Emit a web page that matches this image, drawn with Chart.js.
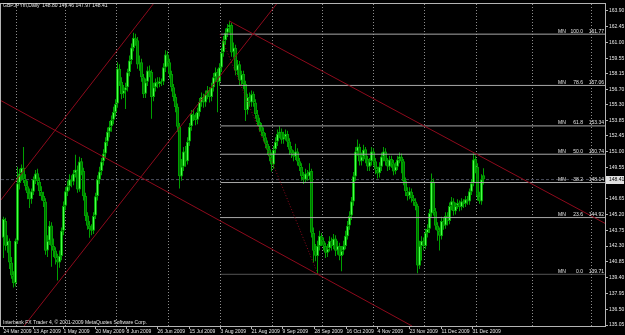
<!DOCTYPE html>
<html>
<head>
<meta charset="utf-8">
<script src="https://cdn.jsdelivr.net/npm/chart.js@4.4.1/dist/chart.umd.min.js"></script>
<style>
  html, body { margin: 0; padding: 0; background: #000; }
  #wrap { width: 625px; height: 335px; }
</style>
</head>
<body>
<div id="wrap"><canvas id="chart" width="625" height="335"></canvas></div>
<script>
// GBPJPYm daily bars, bar 0 = 24 Mar 2009
const openP = [
  143.06, 144.6, 142.3, 142.8, 140.8, 139.6, 138.9, 142.8, 148.1, 149.0,
  149.5, 148.4, 147.8, 147.2, 146.6, 147.3, 148.4, 149.0, 148.2, 147.3,
  146.9, 146.4, 141.9, 142.8, 144.2, 142.3, 141.9, 141.1, 140.8, 141.4,
  143.7, 146.0, 147.3, 147.8, 148.4, 148.2, 149.0, 149.3, 147.5, 150.1,
  149.2, 146.9, 145.1, 144.2, 143.9, 143.7, 145.1, 146.9, 148.4, 149.2,
  150.1, 150.8, 151.9, 152.8, 153.3, 153.9, 154.6, 155.4, 158.6, 157.4,
  156.3, 156.6, 156.9, 158.3, 159.4, 160.5, 161.4, 161.2, 159.0, 159.2,
  157.8, 156.3, 157.4, 158.4, 158.3, 156.0, 156.9, 157.4, 157.2, 157.4,
  157.4, 158.7, 159.9, 159.2, 158.1, 156.9, 156.0, 155.1, 153.3, 148.7,
  149.6, 151.0, 150.1, 151.9, 153.3, 154.4, 154.2, 153.9, 154.6, 155.5,
  156.0, 155.5, 156.3, 156.6, 156.0, 156.9, 157.8, 158.3, 157.4, 158.7,
  160.1, 161.2, 161.9, 162.4, 162.6, 160.1, 160.5, 158.4, 159.0, 157.5,
  158.1, 157.2, 154.8, 156.0, 155.5, 156.3, 155.5, 154.4, 153.7, 153.3,
  152.8, 152.3, 151.7, 151.2, 150.5, 149.8, 151.2, 151.9, 152.6, 152.8,
  152.1, 152.3, 152.6, 151.9, 151.2, 150.8, 150.5, 151.0, 150.1, 149.6,
  148.7, 148.4, 149.0, 148.7, 149.2, 143.5, 141.9, 141.4, 142.3, 143.2,
  142.8, 142.3, 141.7, 142.1, 142.8, 142.3, 143.0, 141.9, 142.3, 141.4,
  141.9, 142.3, 143.2, 144.2, 145.1, 146.4, 148.7, 151.0, 151.4, 150.1,
  150.5, 151.2, 150.3, 149.6, 150.1, 151.0, 150.1, 149.3, 149.0, 149.6,
  150.5, 151.0, 150.1, 149.6, 150.3, 149.9, 149.2, 149.6, 150.3, 150.5,
  150.1, 148.3, 147.3, 146.9, 147.3, 146.7, 146.4, 146.0, 140.5, 142.3,
  142.8, 142.3, 143.5, 143.9, 145.3, 148.2, 145.5, 144.2, 143.7, 143.2,
  144.6, 144.2, 145.1, 144.6, 146.0, 146.4, 145.5, 146.0, 146.3, 145.9,
  146.4, 146.2, 146.6, 146.4, 147.3, 148.1, 150.3, 149.6, 146.9, 146.4,
  148.80
];
const highP = [
  145.0, 144.9, 143.3, 143.0, 141.3, 140.0, 143.0, 149.6, 149.4, 149.8,
  151.4, 148.9, 148.3, 147.6, 147.6, 148.7, 149.3, 149.4, 148.6, 147.8,
  147.3, 146.7, 143.3, 144.6, 144.5, 143.0, 142.2, 141.6, 141.9, 144.0,
  146.4, 147.7, 148.3, 148.9, 148.8, 149.3, 150.7, 149.7, 150.5, 150.4,
  149.5, 147.2, 145.4, 144.6, 144.3, 145.4, 147.2, 148.8, 149.6, 150.4,
  151.2, 152.3, 153.2, 153.8, 154.3, 155.1, 155.8, 159.2, 159.0, 157.8,
  157.1, 157.3, 158.6, 159.8, 160.9, 161.9, 161.8, 161.5, 159.8, 159.5,
  158.1, 157.7, 158.8, 158.9, 158.5, 157.3, 157.7, 157.8, 157.8, 157.7,
  159.1, 160.3, 160.2, 159.5, 158.4, 157.2, 156.3, 155.4, 153.6, 150.3,
  151.4, 151.5, 152.3, 153.6, 154.8, 154.9, 154.5, 155.0, 155.9, 156.4,
  156.3, 156.6, 157.0, 156.9, 157.3, 158.2, 158.7, 158.6, 159.1, 160.5,
  161.6, 162.3, 162.7, 163.0, 162.8, 161.0, 160.8, 159.4, 159.3, 158.4,
  158.4, 157.5, 156.3, 156.4, 156.6, 156.5, 155.8, 154.8, 154.1, 153.6,
  153.2, 152.7, 152.0, 151.5, 150.9, 151.5, 152.3, 153.0, 153.3, 153.1,
  152.8, 153.0, 152.9, 152.2, 151.5, 151.1, 151.7, 151.3, 150.4, 149.9,
  149.1, 149.4, 149.3, 149.9, 149.4, 144.0, 142.5, 142.8, 143.7, 143.5,
  143.1, 142.6, 142.5, 143.2, 143.1, 143.4, 143.3, 142.8, 142.6, 142.3,
  142.8, 143.7, 144.6, 145.5, 146.8, 149.1, 151.4, 152.1, 151.7, 150.9,
  151.6, 151.4, 150.6, 150.4, 151.4, 151.3, 150.4, 149.6, 150.0, 150.9,
  151.4, 151.3, 150.4, 150.6, 150.6, 150.2, 150.0, 150.6, 150.9, 150.8,
  150.3, 148.6, 147.7, 147.7, 147.6, 147.0, 146.7, 146.2, 142.8, 143.2,
  143.1, 143.9, 144.3, 145.7, 148.98, 148.5, 145.8, 144.5, 144.0, 145.0,
  144.9, 145.4, 145.4, 146.3, 146.8, 146.7, 146.3, 146.6, 146.5, 146.7,
  146.6, 146.9, 146.9, 147.6, 148.4, 150.8, 150.6, 149.9, 147.3, 148.9,
  149.46
];
const lowP = [
  141.2, 141.9, 141.7, 140.2, 139.3, 138.5, 138.6, 142.5, 147.5, 148.3,
  148.1, 147.4, 146.6, 145.8, 146.2, 147.0, 148.0, 147.9, 146.9, 146.5,
  145.9, 141.5, 141.3, 142.4, 140.4, 141.3, 140.6, 139.15, 140.3, 141.0,
  143.3, 145.6, 146.9, 147.4, 147.7, 147.9, 148.6, 147.2, 147.3, 148.8,
  146.5, 144.6, 143.8, 143.06, 143.3, 143.4, 144.8, 146.5, 148.0, 148.8,
  149.7, 150.4, 151.5, 152.3, 152.8, 153.5, 154.2, 155.0, 157.0, 155.8,
  155.9, 154.9, 156.5, 157.9, 159.0, 160.2, 160.7, 158.6, 158.4, 157.4,
  155.9, 155.9, 157.0, 157.8, 154.0, 155.6, 156.5, 156.8, 156.9, 157.0,
  157.1, 158.3, 158.8, 157.7, 156.5, 155.6, 154.6, 152.8, 147.6, 148.3,
  149.2, 149.6, 149.8, 151.5, 152.9, 153.8, 153.4, 153.5, 154.2, 155.1,
  155.0, 155.1, 155.8, 155.5, 155.6, 156.5, 157.4, 154.6, 157.0, 158.3,
  159.7, 160.8, 161.5, 161.9, 159.7, 159.6, 158.0, 158.0, 157.1, 157.1,
  156.7, 153.8, 154.4, 155.1, 155.1, 155.1, 154.0, 153.3, 152.8, 152.4,
  151.9, 151.3, 150.7, 150.1, 149.16, 149.4, 150.8, 151.5, 152.2, 151.7,
  151.7, 152.0, 151.4, 150.7, 150.4, 150.1, 150.2, 149.7, 149.2, 148.3,
  148.0, 148.1, 148.3, 148.4, 143.1, 140.8, 140.9, 139.71, 141.9, 142.3,
  141.9, 141.2, 141.3, 141.8, 141.9, 142.0, 141.4, 141.5, 141.0, 140.0,
  141.5, 142.0, 142.9, 143.8, 144.7, 146.0, 148.3, 150.6, 149.7, 149.7,
  150.1, 149.9, 149.2, 149.2, 149.7, 149.7, 148.9, 148.5, 148.6, 149.2,
  150.1, 149.7, 149.2, 149.3, 149.5, 148.8, 148.9, 149.3, 149.9, 149.0,
  147.9, 146.9, 146.5, 146.6, 146.3, 146.0, 145.6, 139.8, 140.2, 140.97,
  141.9, 142.0, 143.1, 143.5, 145.0, 145.1, 143.8, 142.8, 141.9, 142.9,
  143.8, 143.9, 144.2, 144.3, 145.6, 145.1, 145.2, 145.7, 145.5, 145.6,
  145.8, 145.9, 146.1, 146.1, 147.0, 147.8, 149.0, 146.5, 146.2, 146.1,
  147.97
];
const closeP = [
  144.8, 142.34, 142.79, 140.79, 139.6, 138.88, 142.79, 148.07, 148.98, 149.5,
  148.43, 147.8, 147.16, 146.61, 147.34, 148.43, 148.98, 148.25, 147.34, 146.89,
  146.43, 141.88, 142.79, 144.16, 142.34, 141.88, 141.15, 140.79, 141.42, 143.7,
  145.98, 147.34, 147.8, 148.43, 148.25, 148.98, 149.34, 147.5, 150.07, 149.16,
  146.89, 145.07, 144.16, 143.88, 143.7, 145.07, 146.89, 148.43, 149.16, 150.07,
  150.8, 151.89, 152.8, 153.26, 153.89, 154.62, 155.35, 158.62, 157.35, 156.26,
  156.62, 156.9, 158.26, 159.35, 160.54, 161.45, 161.17, 158.99, 159.17, 157.81,
  156.26, 157.35, 158.44, 158.26, 155.99, 156.9, 157.35, 157.17, 157.44, 157.35,
  158.72, 159.9, 159.17, 158.08, 156.9, 155.99, 155.08, 153.26, 148.71, 149.62,
  150.98, 150.07, 151.89, 153.26, 154.44, 154.17, 153.89, 154.62, 155.53, 155.99,
  155.53, 156.26, 156.62, 155.99, 156.9, 157.81, 158.26, 157.35, 158.72, 160.08,
  161.17, 161.9, 162.36, 162.63, 160.08, 160.54, 158.44, 158.99, 157.53, 158.08,
  157.17, 154.8, 155.99, 155.53, 156.26, 155.53, 154.44, 153.71, 153.26, 152.8,
  152.35, 151.71, 151.16, 150.53, 149.8, 151.16, 151.89, 152.62, 152.8, 152.07,
  152.35, 152.62, 151.89, 151.16, 150.8, 150.53, 150.98, 150.07, 149.62, 148.71,
  148.43, 148.98, 148.71, 149.16, 143.52, 141.88, 141.42, 142.34, 143.24, 142.79,
  142.34, 141.7, 142.06, 142.79, 142.34, 142.97, 141.88, 142.34, 141.42, 141.88,
  142.34, 143.24, 144.16, 145.07, 146.43, 148.71, 150.98, 151.44, 150.07, 150.53,
  151.16, 150.25, 149.62, 150.07, 150.98, 150.07, 149.34, 148.98, 149.62, 150.53,
  150.98, 150.07, 149.62, 150.25, 149.89, 149.16, 149.62, 150.25, 150.53, 150.07,
  148.25, 147.34, 146.89, 147.34, 146.7, 146.43, 145.98, 140.52, 142.34, 142.79,
  142.34, 143.52, 143.88, 145.34, 148.25, 145.52, 144.16, 143.7, 143.24, 144.61,
  144.16, 145.07, 144.61, 145.98, 146.43, 145.52, 145.98, 146.25, 145.88, 146.43,
  146.16, 146.61, 146.43, 147.34, 148.07, 150.25, 149.62, 146.89, 146.43, 148.43,
  148.41
];

// time axis labels (bar index where each label starts)
const dateTickBars = [0, 15, 30, 46, 61.5, 77, 93, 108.5, 124, 139.5, 155.5, 171.5, 187, 203, 219, 234.5];
const dateTickLabels = ['24 Mar 2009', '13 Apr 2009', '1 May 2009', '20 May 2009', '8 Jun 2009', '26 Jun 2009',
  '15 Jul 2009', '3 Aug 2009', '21 Aug 2009', '9 Sep 2009', '28 Sep 2009', '16 Oct 2009', '4 Nov 2009',
  '23 Nov 2009', '11 Dec 2009', '31 Dec 2009'];
// month separators (dotted grid)
const monthGridBars = [6.35, 30.65, 56.15, 82.35, 108.15, 134, 159.35, 184.75, 210.5, 236, 264.35, 293.5];

const priceTicks = [163.90, 162.45, 161.00, 159.55, 158.15, 156.70, 155.30, 153.85, 152.45, 151.00, 149.55,
  148.10, 146.65, 145.20, 143.75, 142.30, 140.85, 139.40, 137.95, 136.50, 135.05];

// fibonacci retracement
const fibLevels = ['100.0', '78.6', '61.8', '50.0', '38.2', '23.6', '0.0'];
const fibPrices = [161.77, 157.06, 153.34, 150.74, 148.14, 144.92, 139.71];
const fibStartBar = 108.5;
const fibAnchors = [[108.25, 161.77], [157.25, 139.71]];

// trend lines, [bar, price] pairs
const trendLines = [
  [[10.25, 134.96], [136.9, 164.63]],
  [[-1.75, 146.43], [75.25, 164.63]],
  [[-1.75, 155.71], [204.25, 134.96]],
  [[112.75, 162.99], [301.25, 144.34]]
];

const bidPrice = 148.41;
const headerText = 'GBPJPYm,Daily  148.80 149.46 147.97 148.41';
const footerText = 'Interbank FX Trader 4, \u00a9 2001-2009 MetaQuotes Software Corp.';

const X_MIN = -1.25, X_MAX = 300.75;
const FONT = '"Liberation Sans", Arial, sans-serif';
const TEXT = '#e6e6e6';
const RED = '#8e0a1c';

Chart.defaults.font.family = FONT;
Chart.defaults.font.size = 5;

const bars = openP.map((o, i) => i);
const isUp = bars.map(i => closeP[i] >= openP[i]);

const datasets = [];

// candles: wicks and bodies as floating bars
datasets.push({
  type: 'bar',
  data: bars.map(i => ({ x: i, y: [lowP[i], highP[i]] })),
  backgroundColor: '#00a000',
  borderWidth: 0,
  barThickness: 1,
  grouped: false,
  inflateAmount: 0,
  order: 5
});
datasets.push({
  type: 'bar',
  data: bars.map(i => ({ x: i, y: [openP[i], closeP[i]] })),
  backgroundColor: isUp.map(u => u ? '#4dff4d' : '#007000'),
  borderColor: '#00a000',
  borderWidth: 1,
  borderSkipped: false,
  barThickness: 3,
  grouped: false,
  inflateAmount: 0,
  order: 4
});

// bid line
datasets.push({
  type: 'line',
  data: [{ x: X_MIN, y: bidPrice }, { x: X_MAX, y: bidPrice }],
  borderColor: '#4a4e5c',
  borderDash: [3, 2],
  borderWidth: 1,
  pointRadius: 0,
  order: 6
});

// fibo levels
fibPrices.forEach((p, k) => {
  datasets.push({
    type: 'line',
    data: [{ x: fibStartBar, y: p }, { x: X_MAX, y: p }],
    borderColor: '#a8a8a8',
    borderDash: k === fibPrices.length - 1 ? [1, 1] : [],
    borderWidth: 1,
    pointRadius: 0,
    order: 2
  });
});
datasets.push({
  type: 'line',
  data: fibAnchors.map(a => ({ x: a[0], y: a[1] })),
  borderColor: RED,
  borderDash: [1, 2],
  borderWidth: 1,
  pointRadius: 0,
  order: 1
});

trendLines.forEach(tl => {
  datasets.push({
    type: 'line',
    data: tl.map(a => ({ x: a[0], y: a[1] })),
    borderColor: RED,
    borderWidth: 1,
    pointRadius: 0,
    order: 1
  });
});

// black background, month grid and the MT4 decorations
const mt4Plugin = {
  id: 'mt4',
  beforeDraw(chart) {
    const ctx = chart.ctx;
    ctx.save();
    ctx.fillStyle = '#000';
    ctx.fillRect(0, 0, chart.width, chart.height);
    ctx.restore();
  },
  beforeDatasetsDraw(chart) {
    const { ctx, chartArea: a, scales } = chart;
    ctx.save();
    ctx.strokeStyle = '#8c8c8c';
    ctx.lineWidth = 1;
    ctx.setLineDash([1, 2]);
    monthGridBars.forEach(b => {
      const x = Math.round(scales.x.getPixelForValue(b)) + 0.5;
      ctx.beginPath();
      ctx.moveTo(x, a.top);
      ctx.lineTo(x, a.bottom);
      ctx.stroke();
    });
    ctx.restore();
  },
  afterDraw(chart) {
    const { ctx, chartArea: a, scales } = chart;
    ctx.save();
    // frame
    ctx.strokeStyle = '#b4b4b4';
    ctx.lineWidth = 1;
    ctx.strokeRect(a.left - 0.5, a.top - 0.5, a.right - a.left + 1, a.bottom - a.top + 1);

    ctx.font = '5px ' + FONT;
    ctx.fillStyle = TEXT;
    ctx.textBaseline = 'middle';
    ctx.textAlign = 'left';
    ctx.fillText(headerText, 3, 5.5);
    ctx.fillText(footerText, 3, 322.5);

    // fibo labels
    ctx.textBaseline = 'alphabetic';
    fibPrices.forEach((p, k) => {
      const y = scales.y.getPixelForValue(p) - 1.5;
      ctx.textAlign = 'left';
      ctx.fillText('MN', 558, y);
      ctx.textAlign = 'right';
      ctx.fillText(fibLevels[k], 583, y);
      ctx.fillText(p.toFixed(2), 604, y);
    });

    // bid price box
    const yb = scales.y.getPixelForValue(bidPrice);
    ctx.fillStyle = '#e0e0e0';
    ctx.fillRect(a.right + 1, Math.round(yb) - 4, 18, 8);
    ctx.fillStyle = '#000';
    ctx.textAlign = 'left';
    ctx.textBaseline = 'middle';
    ctx.fillText(bidPrice.toFixed(2), a.right + 4, yb + 0.5);
    ctx.restore();
  }
};

new Chart(document.getElementById('chart'), {
  type: 'bar',
  data: { datasets },
  options: {
    responsive: false,
    animation: false,
    events: [],
    layout: { padding: { left: 1, top: 1, right: 0, bottom: 0 } },
    plugins: { legend: { display: false }, tooltip: { enabled: false } },
    scales: {
      x: {
        type: 'linear',
        min: X_MIN,
        max: X_MAX,
        offset: false,
        bounds: 'data',
        afterBuildTicks: s => { s.ticks = dateTickBars.map(v => ({ value: v })); },
        afterFit: s => { s.height = 9; },
        ticks: {
          autoSkip: false, maxRotation: 0, minRotation: 0, align: 'start', padding: 0,
          color: TEXT, font: { size: 5 },
          callback: (v, i) => dateTickLabels[i]
        },
        grid: { offset: false, drawOnChartArea: false, drawTicks: true, tickLength: 3, color: '#b4b4b4' },
        border: { display: false }
      },
      y: {
        position: 'right',
        min: 134.96,
        max: 164.54,
        bounds: 'data',
        afterBuildTicks: s => { s.ticks = priceTicks.map(v => ({ value: v })); },
        afterFit: s => { s.width = 20; },
        ticks: { padding: 1, color: TEXT, font: { size: 5 }, callback: v => v.toFixed(2) },
        grid: { drawOnChartArea: false, drawTicks: true, tickLength: 3, color: '#b4b4b4' },
        border: { display: false }
      }
    }
  },
  plugins: [mt4Plugin]
});
</script>
</body>
</html>
